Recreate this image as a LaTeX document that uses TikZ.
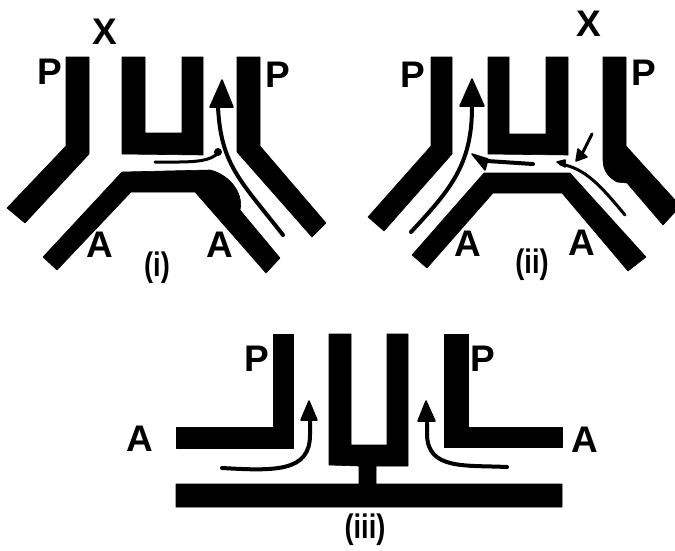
\documentclass[tikz,border=0pt]{standalone}
\usepackage{graphicx}
\usepackage{fontspec}
\setmainfont{Liberation Sans}
\newcommand{\panelname}[1]{\scalebox{0.8}[1]{#1}}
\tikzset{
  wall/.style={fill=black,draw=black,line width=0.6pt,line join=round},
  flow/.style={draw=black,line width=4pt,line cap=round},
  thinflow/.style={draw=black,line width=3pt,line cap=round},
  head/.style={fill=black,draw=black,line width=1.5pt,line join=round},
  big/.style={font=\fontsize{37}{37}\selectfont\bfseries,inner sep=0pt},
  panellabel/.style={font=\fontsize{34}{34}\selectfont\bfseries,inner sep=0pt}
}
\begin{document}
\begin{tikzpicture}[x=1pt,y=-1pt]
\useasboundingbox (0,0) rectangle (675,550);
% Panel (i)
\fill[wall] (66,57)--(89,57)--(89,154)--(25,223)--(7,208)--(66,146)--cycle;
\fill[wall] (122,57)--(145,57)--(145,133)--(182,133)--(182,57)--(203,57)--(203,155)--(122,154)--cycle;
\fill[wall] (237,57)--(260,57)--(260,146)--(326,223)--(312,237)--(237,152)--cycle;
\fill[wall] (43,257)--(122,172)--(210,170) .. controls (228,174) and (244,192) .. (240,210)--(280,258)--(266,273)--(195,192)--(131,192)--(57,270)--cycle;
\draw[flow] (283,235) .. controls (240,180) and (221,165) .. (218,107);
\fill[head] (222,80)--(210,107)--(233,107)--cycle;
\draw[thinflow] (155,162) .. controls (185,162) and (205,163) .. (216,155);
\fill[head] (218,152) circle (3.2);
\node[big] (xa) at (105,32) {X};
\node[big] (pa1) at (50,72) {P};
\node[big] (pa2) at (278,75) {P};
\node[big] (aa1) at (100,245) {A};
\node[big] (aa2) at (220,245) {A};
\node[panellabel] (la) at (157,268) {\panelname{(i)}};
% Panel (ii)
\fill[wall] (431,57)--(452,57)--(452,154)--(384,231)--(368,217)--(431,146)--cycle;
\fill[wall] (488,57)--(509,57)--(509,134)--(546,134)--(546,57)--(568,57)--(568,155)--(488,154)--cycle;
\fill[wall] (603,57)--(626,57)--(626,146)--(675,200)--(675,212)--(663,225)--(627,183)--(617,182) .. controls (610,178) and (603,172) .. (603,160)--cycle;
\fill[wall] (412,255)--(484,173)--(570,173)--(646,257)--(628,271)--(562,193)--(493,193)--(427,268)--cycle;
\draw[flow] (411,232) .. controls (450,190) and (472,165) .. (472,107);
\fill[head] (472,79)--(460,106)--(484,106)--cycle;
\draw[flow] (533,164)--(487,161);
\fill[head] (472,154)--(485,170)--(488,159)--cycle;
\draw[thinflow] (592,134)--(583,152);
\fill[head] (576,161)--(578,149)--(587,157)--cycle;
\draw[thinflow] (625,215) .. controls (600,185) and (585,168) .. (560,164);
\fill[head] (557,162)--(565,160)--(565,167)--cycle;
\node[big] (xb) at (589,24) {X};
\node[big] (pb1) at (413,75) {P};
\node[big] (pb2) at (644,73) {P};
\node[big] (ab1) at (468,244) {A};
\node[big] (ab2) at (582,243) {A};
\node[panellabel] (lb) at (532,265) {\panelname{(ii)}};
% Panel (iii)
\fill[wall] (273,334)--(293,334)--(293,448)--(176,448)--(176,427)--(273,427)--cycle;
\fill[wall] (329,334)--(351,334)--(351,445)--(387,445)--(387,334)--(408,334)--(408,466)--(376,466)--(376,484)--(562,484)--(562,507)--(176,507)--(176,484)--(359,484)--(359,466)--(329,465)--cycle;
\fill[wall] (444,334)--(468,334)--(468,427)--(562,427)--(562,447)--(444,447)--cycle;
\draw[flow] (222,468) .. controls (275,471) and (310,472) .. (310,435) -- (310,420);
\fill[head] (309,401)--(301,420)--(317,420)--cycle;
\draw[flow] (507,467) .. controls (465,465) and (428,470) .. (427,435) -- (427,420);
\fill[head] (426,401)--(418,421)--(435,421)--cycle;
\node[big] (pc1) at (257,359) {P};
\node[big] (pc2) at (483,359) {P};
\node[big] (ac1) at (140,439) {A};
\node[big] (ac2) at (585,440) {A};
\node[panellabel] (lc) at (365,530) {\panelname{(iii)}};
\end{tikzpicture}
\end{document}
